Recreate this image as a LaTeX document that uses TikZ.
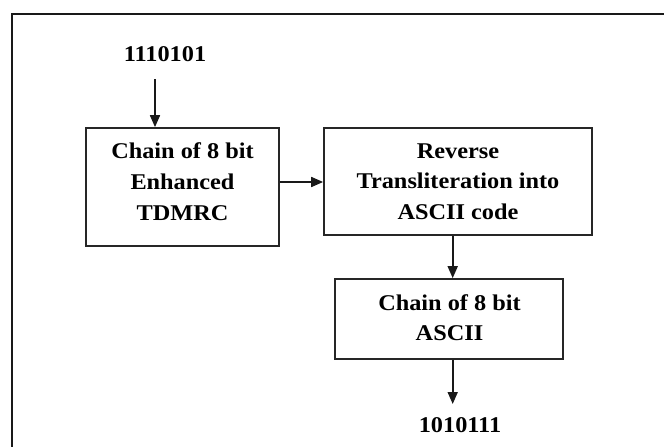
\documentclass[tikz,border=0pt]{standalone}
\usepackage{fontspec}
\setmainfont[FakeStretch=1.08]{Liberation Serif}
\usetikzlibrary{arrows.meta}
\begin{document}
\begin{tikzpicture}[x=1pt,y=-1pt,
  frame/.style={line width=2.4pt, draw=black!90},
  box/.style={draw=black!85, line width=1.7pt, inner sep=0pt, rectangle},
  lbl/.style={font=\fontsize{22.5}{30.7}\selectfont\bfseries, align=center, inner sep=0pt, text=black},
  arr/.style={line width=1.7pt, draw=black!90, -{Triangle[length=12pt,width=10pt]}}]
\useasboundingbox (0,0) rectangle (664,447);
\coordinate (fa) at (12,470);
\coordinate (fb) at (12,14);
\coordinate (fc) at (690,14);
\draw[frame] (fa) -- (fb) -- (fc);
% boxes
\node[box, minimum width=193pt, minimum height=118pt] (b1) at (182.5,187) {};
\node[box, minimum width=268pt, minimum height=107pt] (b2) at (458,181.5) {};
\node[box, minimum width=228pt, minimum height=80pt] (b3) at (449,319) {};
% texts
\node[lbl] (t1) at (182.5,181.7) {Chain of 8 bit\\Enhanced\\TDMRC};
\node[lbl] (t2) at (458,181.6) {Reverse\\Transliteration into\\ASCII code};
\node[lbl] (t3) at (449.5,317.8) {Chain of 8 bit\\ASCII};
\node[lbl] (in1) at (165,54.5) {1110101};
\node[lbl] (out) at (460,425.3) {1010111};
% arrows
\coordinate (s1) at (155,79);
\draw[arr] (s1) -- (s1 |- b1.north);
\draw[arr] ([yshift=5pt]b1.east) -- ([yshift=5pt]b1.east -| b2.west);
\draw[arr] ([xshift=-5.3pt]b2.south) -- ([xshift=-5.3pt]b2.south |- b3.north);
\coordinate (e3) at (452.7,404);
\draw[arr] (b3.south -| e3) -- (e3);
\end{tikzpicture}
\end{document}
